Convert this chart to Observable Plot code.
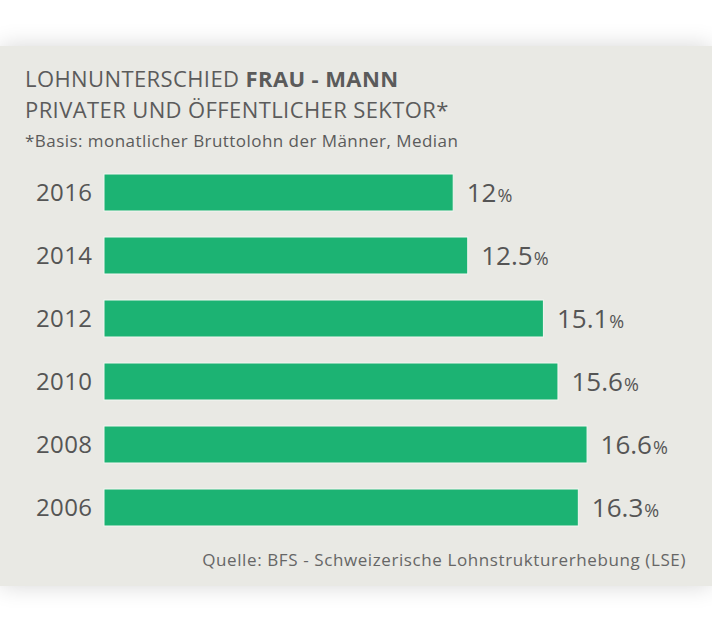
<!DOCTYPE html>
<html>
<head>
<meta charset="utf-8">
<script src="https://cdn.jsdelivr.net/npm/d3@7"></script>
<script src="https://cdn.jsdelivr.net/npm/@observablehq/plot@0.6"></script>
<style>
  html, body { margin: 0; padding: 0; background: #ffffff; width: 712px; height: 631px; overflow: hidden; }
  #card { position: absolute; left: 0; top: 46px; width: 712px; height: 540px; background: #e9e9e4;
          box-shadow: 0 0 22px rgba(0,0,0,0.16); }
  .t { position: absolute; font-family: "Open Sans", sans-serif; color: #5b5b5b; white-space: nowrap; }
  #t1 { left: 25px; top: 63px; font-size: 22px; line-height: 30px; letter-spacing: 0.4px; }
  #t2 { left: 25px; top: 94px; font-size: 22px; line-height: 30px; letter-spacing: 0.4px; }
  #sub { left: 25px; top: 129px; font-size: 17px; line-height: 24px; letter-spacing: 0.45px; }
  #cap { right: 26px; top: 548px; font-size: 17px; line-height: 24px; letter-spacing: 0.6px; color: #666; }
  #chart { position: absolute; left: 0; top: 150px; }
</style>
</head>
<body>
<div id="card"></div>
<div class="t" id="t1">LOHNUNTERSCHIED <b>FRAU - MANN</b></div>
<div class="t" id="t2">PRIVATER UND ÖFFENTLICHER SEKTOR*</div>
<div class="t" id="sub">*Basis: monatlicher Bruttolohn der Männer, Median</div>
<div class="t" id="cap">Quelle: BFS - Schweizerische Lohnstrukturerhebung (LSE)</div>
<div id="chart"></div>
<script>
const years = ["2016", "2014", "2012", "2010", "2008", "2006"];
const values = [12, 12.5, 15.1, 15.6, 16.6, 16.3];
const labels = ["12", "12.5", "15.1", "15.6", "16.6", "16.3"];

const data = years.map((y, i) => ({year: y, value: values[i], label: labels[i]}));

const chart = Plot.plot({
  width: 712,
  height: 390,
  marginLeft: 104,
  marginRight: 26,
  marginTop: 20,
  marginBottom: 10,
  style: {background: "transparent", fontFamily: "Open Sans, sans-serif", color: "#555"},
  x: {domain: [0, 20], axis: null},
  y: {domain: years, paddingInner: 0.416, paddingOuter: 0.05, label: null, tickSize: 0, tickPadding: 12},
  marks: [
    Plot.barX(data, {x: "value", y: "year", fill: "#1cb373", stroke: "#f4f7f2", strokeWidth: 1}),
    Plot.axisY({tickSize: 0, tickPadding: 12, fontSize: 24, fill: "#555", label: null}),
    Plot.text(data, {x: "value", y: "year", text: "label", textAnchor: "start", dx: 13, dy: 1, fontSize: 26, fill: "#555"})
  ]
});
document.getElementById("chart").appendChild(chart);

// append a smaller percent sign to each value label
d3.select(chart).selectAll("g[aria-label='text'] text").each(function() {
  d3.select(this).append("tspan").attr("font-size", 18).attr("dx", 1).text("%");
});
d3.select(chart).selectAll("g[aria-label='y-axis tick label'] text")
  .attr("fill", "#555").style("letter-spacing", "0.4px");
</script>
</body>
</html>
